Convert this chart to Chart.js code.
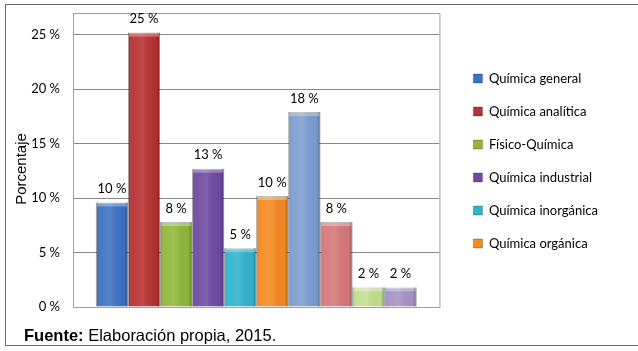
<!DOCTYPE html>
<html>
<head>
<meta charset="utf-8">
<script src="https://cdn.jsdelivr.net/npm/chart.js@4.4.1/dist/chart.umd.min.js"></script>
<style>
  body { margin: 0; background: #fff; }
  #wrap { position: relative; width: 638px; height: 351px; overflow: hidden; }
  #frame { position: absolute; left: 5px; top: 4px; width: 660px; height: 342px; border: 1px solid #6a6a6a; box-sizing: border-box; }
  #myChart { position: absolute; left: 0; top: 0; }
  #fuente { position: absolute; left: 24px; top: 326px; font: 16.5px "Liberation Sans", Arial, sans-serif; color: #000; }
</style>
</head>
<body>
<div id="wrap">
  <div id="frame"></div>
  <canvas id="myChart" width="638" height="351"></canvas>
  <div id="fuente"><b>Fuente:</b> Elaboración propia, 2015.</div>
</div>
<script>
const seriesNames = ["Química general", "Química analítica", "Físico-Química", "Química industrial",
  "Química inorgánica", "Química orgánica", "Serie 7", "Serie 8", "Serie 9", "Serie 10"];
const seriesValues = [9.6, 25.2, 7.8, 12.7, 5.4, 10.2, 17.9, 7.8, 1.8, 1.8];
const seriesColors = ["#3b72c4", "#b83030", "#90b83a", "#6e4aa2", "#30b4cf",
  "#f48a20", "#7d9dd0", "#d6787b", "#c2e08e", "#a593c6"];
const legendCount = 6;
const yTicks = [0, 5, 10, 15, 20, 25];
const yTitle = 'Porcentaje';

const ctx = document.getElementById('myChart');

// borde del área de trazado y título del eje
const plotBorder = {
  id: 'plotBorder',
  afterLayout(chart) {
    chart.legend.top += 1;
    chart.legend.bottom += 1;
  },
  beforeDatasetsDraw(chart) {
    const {ctx, chartArea: a} = chart;
    ctx.save();
    ctx.strokeStyle = '#a0a0a0';
    ctx.lineWidth = 1;
    ctx.strokeRect(a.left + 0.5, a.top + 0.5, a.right - a.left, a.bottom - a.top);
    // título vertical, un poco por debajo del centro como en Excel
    ctx.translate(a.left - 51, (a.top + a.bottom) / 2 + 9);
    ctx.rotate(-Math.PI / 2);
    ctx.fillStyle = '#000';
    ctx.font = '15px "Liberation Sans"';
    ctx.textAlign = 'center';
    ctx.textBaseline = 'middle';
    ctx.fillText(yTitle, 0, 0);
    ctx.restore();
  }
};

// brillo tipo 3D y etiquetas de valor
const barShade = {
  id: 'barShade',
  afterDatasetsDraw(chart) {
    const c = chart.ctx;
    chart.data.datasets.forEach((ds, i) => {
      chart.getDatasetMeta(i).data.forEach((bar, j) => {
        const l = bar.x - bar.width / 2, r = bar.x + bar.width / 2;
        const g = c.createLinearGradient(l, 0, r, 0);
        g.addColorStop(0, 'rgba(0,0,0,0.22)');
        g.addColorStop(0.12, 'rgba(255,255,255,0.05)');
        g.addColorStop(0.45, 'rgba(255,255,255,0.12)');
        g.addColorStop(0.88, 'rgba(0,0,0,0.02)');
        g.addColorStop(1, 'rgba(0,0,0,0.3)');
        c.save();
        c.fillStyle = g;
        c.fillRect(l, bar.y, bar.width, bar.base - bar.y);
        c.fillStyle = 'rgba(255,255,255,0.3)';
        c.fillRect(l + 1, bar.y + 1, bar.width - 2, 3);
        c.fillStyle = '#000';
        c.font = '13px Lato';
        c.textAlign = 'center';
        c.textBaseline = 'bottom';
        c.fillText(Math.round(ds.data[j]) + ' %', bar.x, bar.y - 7);
        c.restore();
      });
    });
  }
};

new Chart(ctx, {
  type: 'bar',
  data: {
    labels: [''],
    datasets: seriesNames.map((name, i) => ({
      label: name,
      data: [seriesValues[i]],
      backgroundColor: seriesColors[i],
      borderColor: 'rgba(0,0,0,0.25)',
      borderWidth: 1,
      categoryPercentage: 0.875,
      barPercentage: 1
    }))
  },
  options: {
    responsive: false,
    animation: false,
    layout: { padding: { top: 13, bottom: 44, left: 10, right: 30 } },
    plugins: {
      legend: {
        position: 'right',
        maxWidth: 300,
        labels: {
          filter: item => item.datasetIndex < legendCount,
          boxWidth: 9,
          boxHeight: 9,
          padding: 20,
          color: '#000',
          font: { family: 'Lato', size: 13 }
        }
      },
      tooltip: { enabled: false }
    },
    scales: {
      x: {
        grid: { display: false },
        ticks: { display: false },
        border: { display: false },
        afterFit: s => { s.height = 0; }
      },
      y: {
        min: 0,
        max: 27,
        afterBuildTicks: s => { s.ticks = yTicks.map(v => ({ value: v })); },
        afterFit: s => { s.width = 63; s.paddingTop = 0; s.paddingBottom = 0; },
        ticks: {
          padding: 13,
          color: '#000',
          font: { family: 'Lato', size: 13 },
          callback: v => v + ' %'
        },
        grid: { color: '#8a8a8a', drawTicks: false },
        border: { display: false }
      },
      y2: {
        position: 'right',
        display: true,
        grid: { display: false },
        ticks: { display: false },
        border: { display: false },
        afterFit: s => { s.width = 14; s.paddingTop = 0; s.paddingBottom = 0; }
      }
    }
  },
  plugins: [plotBorder, barShade]
});
</script>
</body>
</html>
